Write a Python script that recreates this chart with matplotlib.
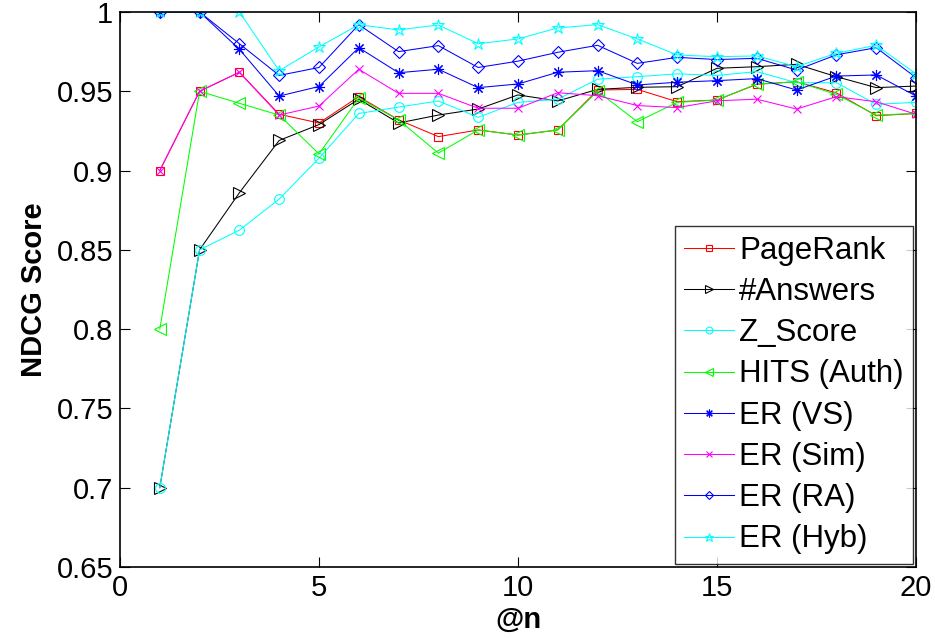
import matplotlib
matplotlib.use("Agg")
import matplotlib.pyplot as plt
import numpy as np

plt.rcParams['font.family'] = ['Liberation Sans', 'DejaVu Sans']

n = np.arange(1, 21)

pagerank = [0.900, 0.950, 0.962, 0.9355, 0.930, 0.9466, 0.932, 0.9214, 0.9256, 0.9224,
            0.9256, 0.9508, 0.9512, 0.9434, 0.9445, 0.9544, 0.956, 0.949, 0.9346, 0.936]
answers = [0.700, 0.850, 0.886, 0.919, 0.929, 0.945, 0.930, 0.935, 0.9388, 0.9477,
           0.9439, 0.9512, 0.9525, 0.9529, 0.9645, 0.9655, 0.967, 0.9592, 0.9523, 0.9533]
z_score = [0.700, 0.850, 0.8624, 0.882, 0.9078, 0.936, 0.940, 0.9439, 0.9336, 0.943,
           0.945, 0.9576, 0.9592, 0.961, 0.960, 0.9624, 0.9554, 0.9554, 0.9418, 0.943]
hits = [0.800, 0.950, 0.9424, 0.935, 0.9105, 0.9456, 0.932, 0.911, 0.9256, 0.9224,
        0.9256, 0.950, 0.9308, 0.943, 0.9445, 0.9546, 0.956, 0.948, 0.935, 0.936]
er_vs = [1.0, 1.0, 0.9765, 0.947, 0.953, 0.9775, 0.9617, 0.9639, 0.9523, 0.9546,
         0.962, 0.963, 0.954, 0.9557, 0.9567, 0.958, 0.9508, 0.9596, 0.9603, 0.947]
er_sim = [0.900, 0.950, 0.962, 0.935, 0.9407, 0.9639, 0.9487, 0.9487, 0.9393, 0.9393,
          0.9491, 0.9472, 0.941, 0.9397, 0.944, 0.945, 0.9388, 0.9466, 0.9434, 0.9355]
er_ra = [1.0, 1.0, 0.980, 0.960, 0.965, 0.992, 0.975, 0.9788, 0.965, 0.969,
         0.9746, 0.979, 0.9676, 0.9714, 0.970, 0.9708, 0.9634, 0.973, 0.9775, 0.9586]
er_hyb = [1.0, 1.0, 1.0, 0.963, 0.978, 0.992, 0.9887, 0.9918, 0.980, 0.983,
          0.990, 0.992, 0.983, 0.9729, 0.9718, 0.9723, 0.9655, 0.974, 0.979, 0.961]

# matlab-style pure colours
RED, BLACK, CYAN = (1, 0, 0), (0, 0, 0), (0, 1, 1)
GREEN, BLUE, MAGENTA = (0, 1, 0), (0, 0, 1), (1, 0, 1)

series = [
    ("PageRank", pagerank, RED, 's', 6),
    ("#Answers", answers, BLACK, '>', 8),
    ("Z_Score", z_score, CYAN, 'o', 7),
    ("HITS (Auth)", hits, GREEN, '<', 8),
    ("ER (VS)", er_vs, BLUE, (8, 2, 0), 8),
    ("ER (Sim)", er_sim, MAGENTA, 'x', 6),
    ("ER (RA)", er_ra, BLUE, 'D', 6),
    ("ER (Hyb)", er_hyb, CYAN, '*', 9),
]

fig = plt.figure(figsize=(9.35, 6.38), dpi=100)
ax = fig.add_axes([0.1283, 0.1113, 0.8514, 0.8699])

for label, vals, col, mk, ms in series:
    ax.plot(n, vals, color=col, marker=mk, markersize=ms, markerfacecolor='none',
            markeredgecolor=col, markeredgewidth=0.8, linewidth=0.75, label=label)

ax.set_xlim(0, 20)
ax.set_ylim(0.65, 1.0)
ax.set_xticks([0, 5, 10, 15, 20])
ax.set_yticks([0.65, 0.7, 0.75, 0.8, 0.85, 0.9, 0.95, 1.0])
ax.set_yticklabels(['0.65', '0.7', '0.75', '0.8', '0.85', '0.9', '0.95', '1'])
ax.tick_params(direction='in', length=7, width=0.8, top=True, right=True,
               labelsize=21, pad=5)
for sp in ax.spines.values():
    sp.set_linewidth(1.2)

ax.set_xlabel('@n', fontsize=21, fontweight='bold', labelpad=3)
ax.set_ylabel('NDCG Score', fontsize=21, fontweight='bold', labelpad=6)

leg = ax.legend(loc='lower right', fontsize=22.5, frameon=True, fancybox=False,
                borderaxespad=0.1, handlelength=1.6, handletextpad=0.15,
                labelspacing=0.36, borderpad=0.3, markerscale=0.7)
leg.get_frame().set_edgecolor('k')
leg.get_frame().set_linewidth(1.0)

fig.savefig('out.png', dpi=100)
